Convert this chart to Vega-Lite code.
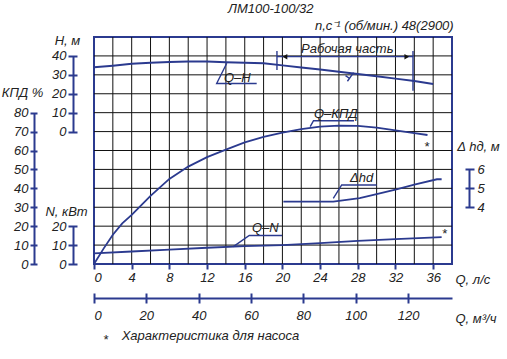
{
  "$schema": "https://vega.github.io/schema/vega-lite/v6.json",
  "width": 358,
  "height": 227,
  "autosize": {"type": "none"},
  "padding": {"left": 94, "top": 37, "right": 55, "bottom": 95},
  "background": "white",
  "datasets": {
    "gv": [{"q":2},{"q":4},{"q":6},{"q":8},{"q":10},{"q":12},{"q":14},{"q":16},{"q":18},{"q":20},{"q":22},{"q":24},{"q":26},{"q":28},{"q":30},{"q":32},{"q":34},{"q":36}],
    "gh": [{"v":10},{"v":20},{"v":30},{"v":40},{"v":50},{"v":60},{"v":70},{"v":80},{"v":90},{"v":100},{"v":110}],
    "H": [{"q":0,"h":34.0},{"q":2,"h":34.8},{"q":4,"h":35.8},{"q":6,"h":36.4},{"q":8,"h":36.8},{"q":10,"h":37.0},{"q":12,"h":37.0},{"q":14,"h":36.7},{"q":16,"h":36.4},{"q":18,"h":36.1},{"q":20,"h":35.0},{"q":22,"h":33.9},{"q":24,"h":32.8},{"q":26,"h":31.6},{"q":28,"h":30.4},{"q":30,"h":29.2},{"q":32,"h":28.0},{"q":34,"h":26.8},{"q":36,"h":25.2}],
    "KPD": [{"q":0,"e":0},{"q":1,"e":8},{"q":2,"e":15.5},{"q":3,"e":21.5},{"q":4,"e":26},{"q":6,"e":36},{"q":8,"e":45},{"q":10,"e":51.5},{"q":12,"e":56.5},{"q":14,"e":60.5},{"q":16,"e":64.3},{"q":18,"e":67.2},{"q":20,"e":69.5},{"q":22,"e":71.3},{"q":24,"e":72.6},{"q":26,"e":73.2},{"q":28,"e":73.0},{"q":30,"e":72.1},{"q":32,"e":70.6},{"q":34,"e":69.2},{"q":35.4,"e":68.2}],
    "N": [{"q":0,"n":5.6},{"q":4,"n":6.6},{"q":8,"n":7.6},{"q":12,"n":8.6},{"q":16,"n":9.4},{"q":20,"n":10},{"q":24,"n":11},{"q":28,"n":12.2},{"q":32,"n":13.2},{"q":36.9,"n":14.2}],
    "DH": [{"q":20.1,"d":4.3},{"q":25.4,"d":4.3},{"q":28.2,"d":4.48},{"q":30,"d":4.7},{"q":32.1,"d":4.95},{"q":34,"d":5.2},{"q":36.4,"d":5.48},{"q":36.9,"d":5.48}],
    "M3H": [{"m":0},{"m":120}],
    "lines": [
      {"seg":"qh","i":0,"q":14.09,"v":106.1},{"seg":"qh","i":1,"q":13.02,"v":95.4},{"seg":"qh","i":2,"q":17.27,"v":95.4},
      {"seg":"kpd","i":0,"q":22.95,"v":72.6},{"seg":"kpd","i":1,"q":23.3,"v":75.75},{"seg":"kpd","i":2,"q":27.6,"v":75.75},
      {"seg":"dh","i":0,"q":25.4,"v":34.7},{"seg":"dh","i":1,"q":26.29,"v":41.8},{"seg":"dh","i":2,"q":30.0,"v":41.8},
      {"seg":"qn","i":0,"q":14.79,"v":9.15},{"seg":"qn","i":1,"q":16.48,"v":15.07},{"seg":"qn","i":2,"q":19.96,"v":15.07},
      {"seg":"work","i":0,"q":19.42,"v":109.6},{"seg":"work","i":1,"q":33.86,"v":109.6},
      {"seg":"wl","i":0,"q":19.42,"v":102.55},{"seg":"wl","i":1,"q":19.42,"v":112.6},
      {"seg":"wr","i":0,"q":33.86,"v":91.6},{"seg":"wr","i":1,"q":33.86,"v":112.6},
      {"seg":"m1","i":0,"q":27.55,"v":101.2},{"seg":"m1","i":1,"q":26.9,"v":96.6},
      {"seg":"m2","i":0,"q":26.7,"v":99.6},{"seg":"m2","i":1,"q":27.1,"v":98.2}
    ],
    "arrows": [{"q":20.27,"v":109.6,"dir":"l"},{"q":33.2,"v":109.6,"dir":"r"}],
    "texts": [
      {"q":14.22,"v":132.7,"t":"ЛМ100-100/32"},
      {"q":23.46,"v":123.7,"t":"n,с⁻¹ (об/мин.) 48(2900)"},
      {"q":21.97,"v":111.5,"t":"Рабочая часть"},
      {"q":13.8,"v":96.3,"t":"Q–H"},
      {"q":23.35,"v":77.0,"t":"Q–КПД"},
      {"q":27.17,"v":43.1,"t":"Δhd"},
      {"q":16.77,"v":16.9,"t":"Q–N"},
      {"q":35.03,"v":60,"t":"*"},
      {"q":36.9,"v":13.5,"t":"*"},
      {"q":0.96,"v":-42.3,"t":"*"},
      {"q":2.94,"v":-40.2,"t":"Характеристика для насоса"}
    ]
  },
  "layer": [
    {
      "data": {"name": "gv"},
      "mark": {"type": "rule", "color": "#111111", "strokeWidth": 1},
      "encoding": {
        "x": {"field": "q", "type": "quantitative", "scale": {"domain": [0, 38], "nice": false, "zero": false},
          "axis": {"orient": "bottom", "values": [0,4,8,12,16,20,24,28,32,36], "domain": false, "tickSize": 5, "labelPadding": 2,
            "title": "Q, л/с", "titleX": 361, "titleY": 19, "titleAlign": "left", "titleBaseline": "alphabetic", "titleAngle": 0}}
      }
    },
    {
      "data": {"name": "gh"},
      "mark": {"type": "rule", "color": "#111111", "strokeWidth": 1},
      "encoding": {
        "y": {"field": "v", "type": "quantitative", "scale": {"domain": [0, 120], "nice": false}, "axis": null}
      }
    },
    {
      "data": {"name": "KPD"},
      "mark": {"type": "line", "color": "#2b3a8f", "strokeWidth": 1.8},
      "encoding": {
        "x": {"field": "q", "type": "quantitative", "scale": {"domain": [0, 38], "nice": false, "zero": false}, "axis": null},
        "y": {"field": "e", "type": "quantitative", "scale": {"domain": [0, 80], "range": [227, 75.67], "nice": false},
          "axis": {"orient": "left", "offset": 57, "values": [0,10,20,30,40,50,60,70,80], "domain": false, "tickSize": 7, "labelPadding": 2,
            "title": "КПД %", "titleX": -15, "titleY": 59, "titleAngle": 0, "titleAlign": "center", "titleBaseline": "alphabetic"}}
      }
    },
    {
      "data": {"name": "KPD"},
      "mark": {"type": "point", "opacity": 0},
      "encoding": {
        "x": {"field": "q", "type": "quantitative", "scale": {"domain": [0, 38], "nice": false, "zero": false}, "axis": null},
        "y": {"field": "e", "type": "quantitative", "scale": {"domain": [0, 80], "range": [227, 75.67], "nice": false},
          "axis": {"orient": "left", "offset": 60, "values": [0,80], "domain": true, "ticks": false, "labels": false, "title": null}}
      }
    },
    {
      "data": {"name": "H"},
      "mark": {"type": "line", "color": "#2b3a8f", "strokeWidth": 2},
      "encoding": {
        "x": {"field": "q", "type": "quantitative", "scale": {"domain": [0, 38], "nice": false, "zero": false}, "axis": null},
        "y": {"field": "h", "type": "quantitative", "scale": {"domain": [0, 40], "range": [94.58, 18.92], "nice": false, "zero": false},
          "axis": {"orient": "left", "offset": 17, "values": [0,10,20,30,40], "domain": false, "tickSize": 9, "labelPadding": 2,
            "title": "Н, м", "titleX": -10, "titleY": 7, "titleAngle": 0, "titleAlign": "center", "titleBaseline": "alphabetic"}}
      }
    },
    {
      "data": {"name": "H"},
      "mark": {"type": "point", "opacity": 0},
      "encoding": {
        "x": {"field": "q", "type": "quantitative", "scale": {"domain": [0, 38], "nice": false, "zero": false}, "axis": null},
        "y": {"field": "h", "type": "quantitative", "scale": {"domain": [0, 40], "range": [94.58, 18.92], "nice": false, "zero": false},
          "axis": {"orient": "left", "offset": 21, "values": [0,40], "domain": true, "ticks": false, "labels": false, "title": null}}
      }
    },
    {
      "data": {"name": "N"},
      "mark": {"type": "line", "color": "#2b3a8f", "strokeWidth": 1.8},
      "encoding": {
        "x": {"field": "q", "type": "quantitative", "scale": {"domain": [0, 38], "nice": false, "zero": false}, "axis": null},
        "y": {"field": "n", "type": "quantitative", "scale": {"domain": [0, 20], "range": [227, 189.17], "nice": false},
          "axis": {"orient": "left", "offset": 17, "values": [0,10,20], "domain": false, "tickSize": 9, "labelPadding": 2,
            "title": "N, кВт", "titleX": -11, "titleY": 178, "titleAngle": 0, "titleAlign": "center", "titleBaseline": "alphabetic"}}
      }
    },
    {
      "data": {"name": "N"},
      "mark": {"type": "point", "opacity": 0},
      "encoding": {
        "x": {"field": "q", "type": "quantitative", "scale": {"domain": [0, 38], "nice": false, "zero": false}, "axis": null},
        "y": {"field": "n", "type": "quantitative", "scale": {"domain": [0, 20], "range": [227, 189.17], "nice": false},
          "axis": {"orient": "left", "offset": 21, "values": [0,20], "domain": true, "ticks": false, "labels": false, "title": null}}
      }
    },
    {
      "data": {"name": "DH"},
      "mark": {"type": "line", "color": "#2b3a8f", "strokeWidth": 1.8},
      "encoding": {
        "x": {"field": "q", "type": "quantitative", "scale": {"domain": [0, 38], "nice": false, "zero": false}, "axis": null},
        "y": {"field": "d", "type": "quantitative", "scale": {"domain": [4, 6], "range": [170.25, 132.42], "nice": false, "zero": false},
          "axis": {"orient": "right", "offset": 13, "values": [4,5,6], "tickCount": 3, "format": ".0f", "domain": false, "tickSize": 9, "labelPadding": 3,
            "title": "Δ hд, м", "titleX": 13, "titleY": 113, "titleAngle": 0, "titleAlign": "center", "titleBaseline": "alphabetic"}}
      }
    },
    {
      "data": {"name": "DH"},
      "mark": {"type": "point", "opacity": 0},
      "encoding": {
        "x": {"field": "q", "type": "quantitative", "scale": {"domain": [0, 38], "nice": false, "zero": false}, "axis": null},
        "y": {"field": "d", "type": "quantitative", "scale": {"domain": [4, 6], "range": [170.25, 132.42], "nice": false, "zero": false},
          "axis": {"orient": "right", "offset": 17, "values": [4,6], "domain": true, "ticks": false, "labels": false, "title": null}}
      }
    },
    {
      "data": {"name": "M3H"},
      "mark": {"type": "point", "opacity": 0},
      "encoding": {
        "x": {"field": "m", "type": "quantitative", "scale": {"domain": [0, 136.8], "nice": false, "zero": false},
          "axis": {"orient": "bottom", "offset": 29, "values": [0,20,40,60,80,100,120], "domain": false, "tickSize": 10, "labelPadding": 6,
            "title": "Q, м³/ч", "titleX": 361, "titleY": 29, "titleAlign": "left", "titleBaseline": "alphabetic", "titleAngle": 0}}
      }
    },
    {
      "data": {"name": "M3H"},
      "mark": {"type": "point", "opacity": 0},
      "encoding": {
        "x": {"field": "m", "type": "quantitative", "scale": {"domain": [0, 136.8], "nice": false, "zero": false},
          "axis": {"orient": "bottom", "offset": 34, "values": [0,120], "domain": true, "ticks": false, "labels": false, "title": null}}
      }
    },
    {
      "data": {"name": "lines"},
      "mark": {"type": "line", "color": "#2b3a8f", "strokeWidth": 1.4},
      "encoding": {
        "x": {"field": "q", "type": "quantitative", "scale": {"domain": [0, 38], "nice": false, "zero": false}, "axis": null},
        "y": {"field": "v", "type": "quantitative", "scale": {"domain": [0, 120], "nice": false}, "axis": null},
        "detail": {"field": "seg", "type": "nominal"},
        "order": {"field": "i", "type": "quantitative"}
      }
    },
    {
      "data": {"name": "arrows"},
      "mark": {"type": "point", "filled": true, "color": "#111111", "size": 30, "opacity": 1},
      "encoding": {
        "x": {"field": "q", "type": "quantitative", "scale": {"domain": [0, 38], "nice": false, "zero": false}, "axis": null},
        "y": {"field": "v", "type": "quantitative", "scale": {"domain": [0, 120], "nice": false}, "axis": null},
        "shape": {"field": "dir", "type": "nominal", "scale": {"domain": ["l", "r"], "range": ["triangle-left", "triangle-right"]}, "legend": null}
      }
    },
    {
      "data": {"name": "texts"},
      "mark": {"type": "text", "align": "left", "baseline": "alphabetic"},
      "encoding": {
        "x": {"field": "q", "type": "quantitative", "scale": {"domain": [0, 38], "nice": false, "zero": false}, "axis": null},
        "y": {"field": "v", "type": "quantitative", "scale": {"domain": [0, 120], "nice": false}, "axis": null},
        "text": {"field": "t", "type": "nominal"}
      }
    }
  ],
  "resolve": {"scale": {"x": "independent", "y": "independent", "shape": "independent"}},
  "config": {
    "view": {"stroke": "#2b3a8f", "strokeWidth": 2},
    "axis": {
      "grid": false,
      "labelFont": "Liberation Sans", "labelFontStyle": "italic", "labelFontSize": 13, "labelColor": "#222222",
      "titleFont": "Liberation Sans", "titleFontStyle": "italic", "titleFontWeight": "normal", "titleFontSize": 13, "titleColor": "#222222",
      "domainColor": "#2b3a8f", "domainWidth": 2, "tickColor": "#2b3a8f", "tickWidth": 2, "labelOverlap": false
    },
    "text": {"font": "Liberation Sans", "fontStyle": "italic", "fontSize": 13, "color": "#222222"}
  }
}
